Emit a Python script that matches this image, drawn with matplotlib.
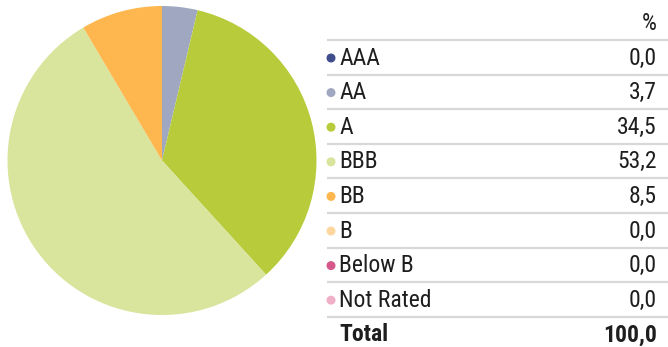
import matplotlib
matplotlib.use("Agg")
import matplotlib.pyplot as plt
from matplotlib.patches import Circle

plt.rcParams['font.family'] = ['Roboto Condensed', 'Liberation Sans Narrow', 'DejaVu Sans']

ratings = ["AAA", "AA", "A", "BBB", "BB", "B", "Below B", "Not Rated"]
weights = [0.0, 3.7, 34.5, 53.2, 8.5, 0.0, 0.0, 0.0]
colors = ["#3f4d8c", "#a0a7c0", "#b8cc3b", "#d9e49d", "#fdb74e", "#fed7a0", "#d6588b", "#f0b0c8"]
total_label = "100,0"

W, H = 668, 347
fig = plt.figure(figsize=(W / 100, H / 100), dpi=100)

# pie on the left
cx, cy, r = 162, 160.5, 154.5
ax = fig.add_axes([(cx - r) / W, (H - cy - r) / H, 2 * r / W, 2 * r / H])
ax.pie(weights, colors=colors, startangle=90, counterclock=False,
       wedgeprops=dict(linewidth=0))
ax.set_xlim(-1, 1)
ax.set_ylim(-1, 1)
ax.set_aspect("equal")
ax.axis("off")

# table on the right, in pixel coordinates
tx = fig.add_axes([0, 0, 1, 1])
tx.set_xlim(0, W)
tx.set_ylim(H, 0)
tx.axis("off")

txt = "#1e1e1e"
fs = 17
x_line, x_dot, x_lab, x_val = 327, 331, 339, 657
row0, step = 58, 34.6

tx.text(x_val, 23, "%", ha="right", va="center", fontsize=fs, color=txt)
for i, (name, val, c) in enumerate(zip(ratings, weights, colors)):
    y = row0 + i * step
    tx.plot([x_line, W], [y - 18, y - 18], color="#d8d8d8", lw=1.6, solid_capstyle="butt")
    tx.add_patch(Circle((x_dot, y), 3.8, color=c))
    tx.text(x_lab, y, name, ha="left", va="center", fontsize=fs, color=txt)
    tx.text(x_val, y, f"{val:.1f}".replace(".", ","), ha="right", va="center",
            fontsize=fs, color=txt)

y = row0 + len(ratings) * step
tx.plot([x_line, W], [y - 18, y - 18], color="#d8d8d8", lw=1.6, solid_capstyle="butt")
tx.text(x_lab, y, "Total", ha="left", va="center", fontsize=fs, color=txt, fontweight="bold")
tx.text(x_val, y, total_label, ha="right", va="center", fontsize=fs, color=txt, fontweight="bold")

fig.savefig("out.png", dpi=100)
